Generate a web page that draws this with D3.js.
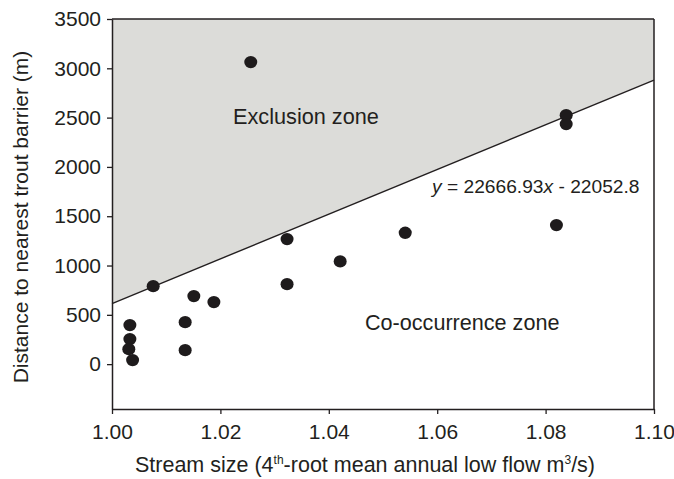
<!DOCTYPE html>
<html>
<head>
<meta charset="utf-8">
<script src="https://cdn.jsdelivr.net/npm/d3@7"></script>
<style>
  html, body { margin: 0; padding: 0; background: #fff; }
  text { font-family: "Liberation Sans", Arial, sans-serif; fill: #231f20; }
</style>
</head>
<body>
<svg id="chart" width="674" height="479"></svg>
<script>
// ---- data ----
const streamSize = [1.0033, 1.0033, 1.0031, 1.0038, 1.0076, 1.0135, 1.0135, 1.0151, 1.0188, 1.0256, 1.0323, 1.0323, 1.0421, 1.0541, 1.0820, 1.0838, 1.0838];
const distance   = [396, 254, 152, 41, 791, 426, 142, 690, 629, 3063, 1268, 811, 1042, 1332, 1410, 2525, 2434];
const xTicks = [1.00, 1.02, 1.04, 1.06, 1.08, 1.10];
const yTicks = [0, 500, 1000, 1500, 2000, 2500, 3000, 3500];
const slope = 22666.93;
const intercept = -22052.8;
const xDomain = [1.00, 1.10];
const yDomain = [-455, 3500];

// ---- layout ----
const svg = d3.select("#chart");
const L = 112, R = 654, T = 19, B = 409;
const x = d3.scaleLinear().domain(xDomain).range([L, R]);
const y = d3.scaleLinear().domain(yDomain).range([B, T]);
const ink = "#231f20";

// shaded exclusion zone above the boundary line
const lineY = v => slope * v + intercept;
const poly = [
  [xDomain[0], lineY(xDomain[0])],
  [xDomain[1], lineY(xDomain[1])],
  [xDomain[1], yDomain[1]],
  [xDomain[0], yDomain[1]]
];
svg.append("path")
  .attr("d", d3.line().x(d => x(d[0])).y(d => y(d[1]))(poly) + "Z")
  .attr("fill", "#dcdcd9");

// boundary line
svg.append("line")
  .attr("x1", x(xDomain[0])).attr("y1", y(lineY(xDomain[0])))
  .attr("x2", x(xDomain[1])).attr("y2", y(lineY(xDomain[1])))
  .attr("stroke", ink).attr("stroke-width", 1.4);

// frame (top and right)
svg.append("line").attr("x1", L).attr("x2", R).attr("y1", T).attr("y2", T)
  .attr("stroke", ink).attr("stroke-width", 1.5);
svg.append("line").attr("x1", R).attr("x2", R).attr("y1", T).attr("y2", B)
  .attr("stroke", ink).attr("stroke-width", 1.5);

// axes
const xAxis = svg.append("g").attr("transform", `translate(0,${B})`)
  .call(d3.axisBottom(x).tickValues(xTicks).tickFormat(d3.format(".2f")).tickSize(5).tickSizeOuter(0));
const yAxis = svg.append("g").attr("transform", `translate(${L},0)`)
  .call(d3.axisLeft(y).tickValues(yTicks).tickFormat(d3.format("d")).tickSize(5).tickSizeOuter(0));
[xAxis, yAxis].forEach(g => {
  g.select(".domain").attr("stroke", ink).attr("stroke-width", 1.5);
  g.selectAll(".tick line").attr("stroke", ink).attr("stroke-width", 1.3);
  g.selectAll(".tick text").attr("font-size", 21).attr("font-family", "Liberation Sans, Arial, sans-serif").attr("fill", ink);
});
xAxis.selectAll(".tick text").attr("dy", "0.71em").attr("y", 15);
yAxis.selectAll(".tick text").attr("x", -11);

// points
svg.append("g").selectAll("ellipse")
  .data(streamSize.map((v, i) => [v, distance[i]]))
  .join("ellipse")
  .attr("cx", d => x(d[0])).attr("cy", d => y(d[1]))
  .attr("rx", 6.5).attr("ry", 6.2)
  .attr("fill", "#1e1b1c");

// annotations
svg.append("text").attr("x", 233).attr("y", 124).attr("font-size", 21.7).text("Exclusion zone");
svg.append("text").attr("x", 365).attr("y", 330).attr("font-size", 21.6).text("Co-occurrence zone");
const eq = svg.append("text").attr("x", 432).attr("y", 193).attr("font-size", 19.2);
eq.append("tspan").attr("font-style", "italic").text("y");
eq.append("tspan").text(" = 22666.93");
eq.append("tspan").attr("font-style", "italic").text("x");
eq.append("tspan").text(" - 22052.8");

// axis titles
const xt = svg.append("text").attr("x", 365).attr("y", 472).attr("text-anchor", "middle").attr("font-size", 21.5);
xt.append("tspan").text("Stream size (4");
xt.append("tspan").attr("font-size", 12).attr("dy", -8).text("th");
xt.append("tspan").attr("dy", 8).text("-root mean annual low flow m");
xt.append("tspan").attr("font-size", 12).attr("dy", -8).text("3");
xt.append("tspan").attr("dy", 8).text("/s)");

svg.append("text")
  .attr("transform", "translate(28,217) rotate(-90)")
  .attr("text-anchor", "middle").attr("font-size", 21)
  .text("Distance to nearest trout barrier (m)");
</script>
</body>
</html>
